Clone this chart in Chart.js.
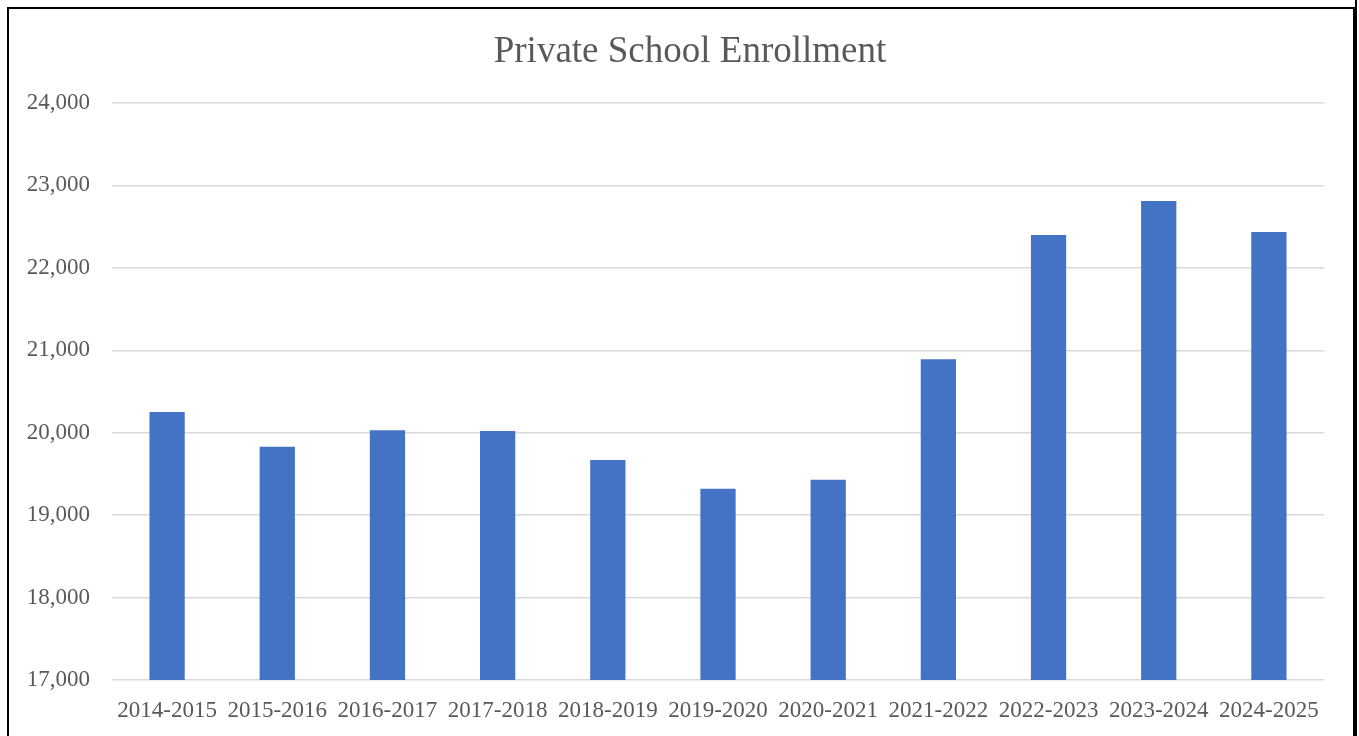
<!DOCTYPE html>
<html>
<head>
<meta charset="utf-8">
<script src="https://cdn.jsdelivr.net/npm/chart.js@4"></script>
<style>
    body { margin: 0; background: #fff; }
    #wrap { position: absolute; left: 0; top: 0; width: 1359px; height: 736px; }
    #title { position: absolute; left: 490px; width: 400px; top: 28px; height: 44px; line-height: 44px;
        text-align: center; font-family: 'Liberation Serif', 'Times New Roman', serif; font-size: 37px; color: #595959; }
    #frame { position: absolute; left: 7px; top: 7px; width: 1344px; height: 760px; border: 2px solid #000; pointer-events: none; }
    #edge { position: absolute; left: 1355px; top: 0; width: 2px; height: 736px; background: #000; pointer-events: none; }
</style>
</head>
<body>
<div id="wrap"><canvas id="enrollChart"></canvas></div>
<div id="title">Private School Enrollment</div>
<div id="frame"></div>
<div id="edge"></div>
<script>
const years = ["2014-2015", "2015-2016", "2016-2017", "2017-2018", "2018-2019", "2019-2020",
    "2020-2021", "2021-2022", "2022-2023", "2023-2024", "2024-2025"];
const enrollment = [20250, 19830, 20030, 20020, 19670, 19320, 19430, 20890, 22400, 22810, 22435];

const textColor = "#595959";
const serif = "'Liberation Serif', 'Times New Roman', serif";

new Chart(document.getElementById("enrollChart"), {
    type: "bar",
    data: {
        labels: years,
        datasets: [{
            label: "Enrollment",
            data: enrollment,
            backgroundColor: "#4472c4",
            barPercentage: 0.32,
            categoryPercentage: 1
        }]
    },
    options: {
        responsive: true,
        maintainAspectRatio: false,
        animation: false,
        layout: { padding: { left: 0, right: 35, top: 103, bottom: 0 } },
        plugins: {
            legend: { display: false },
            tooltip: { enabled: false },
            title: { display: false }
        },
        scales: {
            x: {
                grid: { display: false, drawTicks: false },
                border: { display: false },
                ticks: {
                    color: textColor,
                    font: { family: serif, size: 23 },
                    padding: 17,
                    maxRotation: 0,
                    autoSkip: false
                },
                afterFit(scale) { scale.height = 56; }
            },
            y: {
                min: 17000,
                max: 24000,
                grid: { color: "#d9d9d9", lineWidth: 1.5, drawTicks: false },
                border: { display: false },
                ticks: {
                    stepSize: 1000,
                    color: textColor,
                    font: { family: serif, size: 23 },
                    padding: 22,
                    callback: v => v.toLocaleString("en-US")
                },
                afterFit(scale) { scale.width = 112; }
            }
        }
    }
});
</script>
</body>
</html>
